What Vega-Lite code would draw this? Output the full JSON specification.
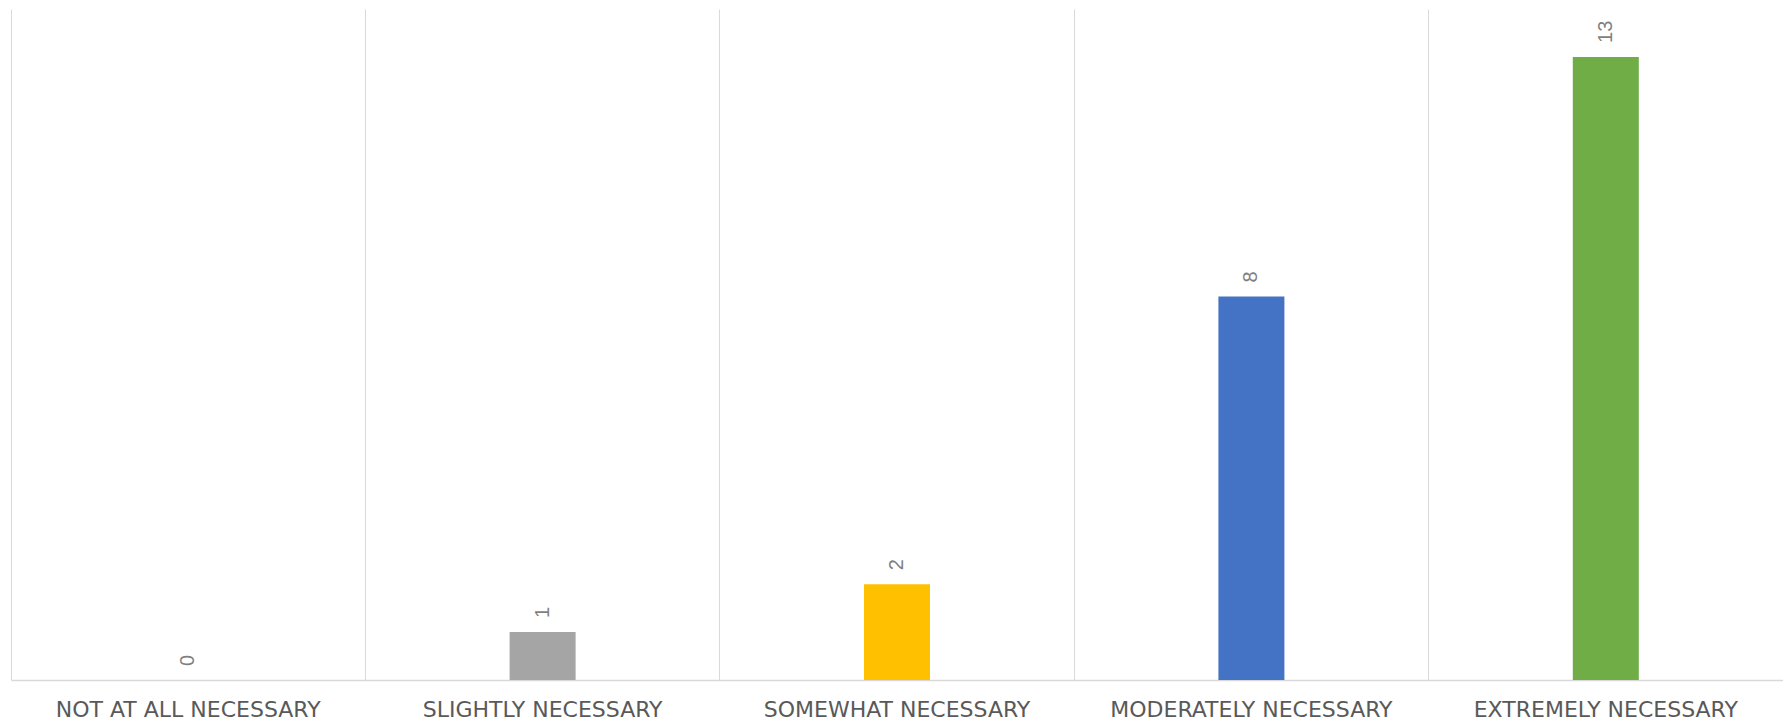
{
  "$schema": "https://vega.github.io/schema/vega-lite/v6.json",
  "width": 1772,
  "height": 671,
  "padding": {"left": 11, "top": 9, "right": 0, "bottom": 0},
  "autosize": {"type": "pad"},
  "config": {"view": {"stroke": null}, "font": "DejaVu Sans"},
  "data": {
    "values": [
      {"category": "NOT AT ALL NECESSARY", "count": 0},
      {"category": "SLIGHTLY NECESSARY", "count": 1},
      {"category": "SOMEWHAT NECESSARY", "count": 2},
      {"category": "MODERATELY NECESSARY", "count": 8},
      {"category": "EXTREMELY NECESSARY", "count": 13}
    ]
  },
  "encoding": {
    "x": {
      "field": "category",
      "type": "nominal",
      "sort": null,
      "scale": {"paddingInner": 0, "paddingOuter": 0},
      "axis": {
        "title": null,
        "grid": true,
        "bandPosition": 0,
        "gridColor": "#d9d9d9",
        "gridWidth": 1,
        "domainColor": "#d9d9d9",
        "domainWidth": 1.5,
        "ticks": false,
        "labelAngle": 0,
        "labelFontSize": 22,
        "labelFont": "DejaVu Sans",
        "labelColor": "#595959",
        "labelPadding": 19,
        "labelLimit": 0
      }
    }
  },
  "layer": [
    {
      "mark": {"type": "bar", "size": 66},
      "encoding": {
        "y": {
          "field": "count",
          "type": "quantitative",
          "scale": {"domain": [0, 14], "nice": false},
          "axis": {
            "orient": "right",
            "title": null,
            "labels": false,
            "ticks": false,
            "grid": false,
            "domain": true,
            "domainColor": "#d9d9d9",
            "domainWidth": 1,
            "minExtent": 0
          }
        },
        "color": {
          "field": "category",
          "type": "nominal",
          "scale": {
            "domain": ["NOT AT ALL NECESSARY", "SLIGHTLY NECESSARY", "SOMEWHAT NECESSARY", "MODERATELY NECESSARY", "EXTREMELY NECESSARY"],
            "range": ["#ed7d31", "#a5a5a5", "#ffc000", "#4472c4", "#70ad47"]
          },
          "legend": null
        }
      }
    },
    {
      "mark": {
        "type": "text",
        "angle": 270,
        "align": "left",
        "baseline": "middle",
        "dx": 14,
        "fontSize": 20,
        "font": "Liberation Sans",
        "color": "#7f7f7f"
      },
      "encoding": {
        "y": {"field": "count", "type": "quantitative"},
        "text": {"field": "count", "type": "quantitative"}
      }
    }
  ]
}
